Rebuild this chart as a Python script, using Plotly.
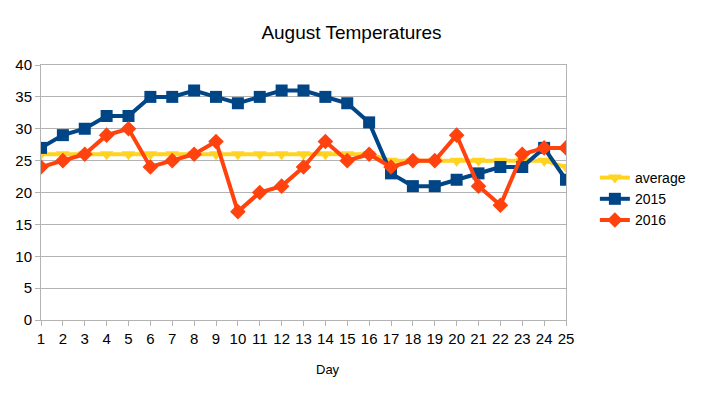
import plotly.graph_objects as go

days = list(range(1, 26))
average = [26]*16 + [25]*8 + [24]
y2015 = [27, 29, 30, 32, 32, 35, 35, 36, 35, 34, 35, 36, 36, 35, 34, 31, 23, 21, 21, 22, 23, 24, 24, 27, 22]
y2016 = [24, 25, 26, 29, 30, 24, 25, 26, 28, 17, 20, 21, 24, 28, 25, 26, 24, 25, 25, 29, 21, 18, 26, 27, 27]

series = [
    ("average", average, "#ffd320", "triangle-down", 12),
    ("2015", y2015, "#004586", "square", 12),
    ("2016", y2016, "#ff420e", "diamond", 12),
]

fig = go.Figure()
for name, vals, color, sym, size in series:
    fig.add_trace(go.Scatter(
        x=days, y=vals, name=name, mode="lines+markers",
        line=dict(color=color, width=4),
        marker=dict(symbol=sym, size=size, color=color),
    ))

fig.update_layout(
    width=703, height=400,
    margin=dict(l=41, r=135, t=65, b=80),
    paper_bgcolor="white", plot_bgcolor="white",
    font=dict(family="Liberation Sans", size=15, color="black"),
    title=dict(text="August Temperatures", x=0.5, xanchor="center", y=0.92, yanchor="middle",
               font=dict(size=19)),
    legend=dict(x=1.055, y=(320-199)/255, xanchor="left", yanchor="middle",
                font=dict(size=14), tracegroupgap=0, itemwidth=30),
    showlegend=True,
)
fig.update_xaxes(
    range=[1, 25], tickmode="linear", tick0=1, dtick=1,
    showgrid=False, showline=True, linecolor="#b3b3b3", linewidth=1,
    ticks="outside", ticklen=5, tickcolor="#b3b3b3", mirror=True,
    zeroline=False,
)
fig.update_yaxes(
    range=[0, 40], dtick=5, showgrid=True, gridcolor="#b3b3b3",
    showline=True, linecolor="#b3b3b3", linewidth=1, mirror=True,
    zeroline=False, ticks="outside", ticklen=5, tickcolor="#b3b3b3", ticklabelstandoff=0,
)
fig.add_annotation(text="Day", xref="paper", yref="paper", x=(329-41)/527, y=-0.195,
                   showarrow=False, font=dict(size=13), xanchor="center", yanchor="middle")
fig.write_html("out.html")
